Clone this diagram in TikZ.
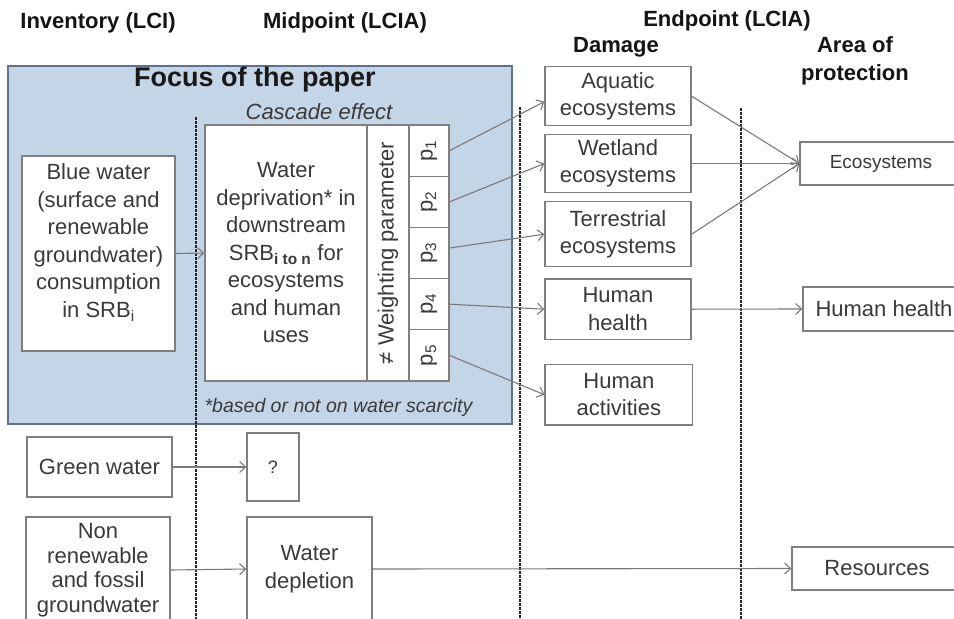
\documentclass[tikz,border=0pt]{standalone}
\usepackage{fontspec}
\setmainfont{Liberation Sans}
\usetikzlibrary{arrows.meta,calc}
\definecolor{bluefill}{HTML}{C5D5E8}
\definecolor{blueedge}{HTML}{5C7290}
\definecolor{boxedge}{HTML}{7F7F7F}
\definecolor{txt}{HTML}{3A3A3A}
\definecolor{arr}{HTML}{7A7A7A}
\begin{document}
\begin{tikzpicture}[x=1pt,y=-1pt,
  box/.style={draw=boxedge, line width=1.3pt, fill=white, text=txt, align=center, inner sep=0pt,
    font=\fontsize{22}{27.5}\selectfont},
  plaintext/.style={text=txt, align=center, inner sep=0pt, font=\fontsize{22}{27.5}\selectfont},
  ttl/.style={font=\bfseries\fontsize{22}{28}\selectfont, text=black!92, align=center, inner sep=0pt},
  conn/.style={draw=arr, line width=1.1pt, -{Straight Barb[length=6pt,width=11pt]}},
  sepline/.style={draw=black!85, line width=1.2pt, dash pattern=on 2.5pt off 1.5pt}
]
\clip (0,0) rectangle (954,619);
\fill[white] (0,0) rectangle (954,619);

% column titles
\node[ttl] (tinv) at (98,23) {Inventory (LCI)};
\node[ttl] (tmid) at (345,23) {Midpoint (LCIA)};
\node[ttl] (tend) at (727,21) {Endpoint (LCIA)};
\node[ttl] (tdam) at (616,47) {Damage};
\node[ttl] (taop) at (855,61) {Area of\\protection};

% focus region
\node[draw=blueedge, fill=bluefill, line width=2pt, minimum width=504, minimum height=358, inner sep=0pt] (focus) at (260,245) {};
\node[font=\bfseries\fontsize{27}{30}\selectfont, text=black!90, inner sep=0pt] (focustitle) at (255,80) {Focus of the paper};
\node[font=\itshape\fontsize{22}{27}\selectfont, text=txt, inner sep=0pt] (cascade) at (319,112) {Cascade effect};
\node[font=\itshape\fontsize{19.5}{24}\selectfont, text=txt, inner sep=0pt] (note) at (338.5,407) {*based or not on water scarcity};

% dashed separators
\coordinate (s1t) at (196,117); \coordinate (s1b) at (196,619);
\coordinate (s2t) at (520,107); \coordinate (s2b) at (520,619);
\coordinate (s3t) at (741,108); \coordinate (s3b) at (741,619);
\draw[sepline] (s1t) -- (s1b);
\draw[sepline] (s2t) -- (s2b);
\draw[sepline] (s3t) -- (s3b);

% inventory
\node[box, minimum width=153, minimum height=195] (blue) at (98.5,253.5) {};
\node[plaintext] (bluetext) at (98.5,242.5) {Blue water\\(surface and\\renewable\\groundwater)\\consumption\\in SRB\textsubscript{i}};
\node[box, minimum width=145, minimum height=60] (green) at (99.5,467) {Green water};
\node[box, minimum width=144, minimum height=106, font=\fontsize{22}{24.5}\selectfont] (nonren) at (98,570) {Non\\renewable\\and fossil\\groundwater};

% midpoint
\node[box, minimum width=162, minimum height=256] (dep) at (286,253) {Water\\deprivation* in\\downstream\\SRB\textsubscript{\textbf{i to n}} for\\ecosystems\\and human\\uses};
\node[box, minimum width=42, minimum height=256] (wcol) at (388,253) {};
\node[plaintext, rotate=90] (wtext) at (wcol.center) {≠ Weighting parameter};
\foreach \i/\y in {1/150.6,2/201.8,3/253,4/304.2,5/355.4}{
  \node[box, minimum width=40, minimum height=51.2] (p\i) at (429,\y) {};
  \node[plaintext, rotate=90] (pt\i) at (p\i.center) {p\textsubscript{\i}};
}
\node[box, minimum width=52, minimum height=68, font=\fontsize{18}{22}\selectfont] (q) at (273,467) {?};
\node[box, minimum width=125, minimum height=104, font=\fontsize{22}{28}\selectfont] (wd) at (309.5,569) {Water\\depletion};

% damage
\node[box, minimum width=146, minimum height=59] (aq) at (618,96.2) {Aquatic\\ecosystems};
\node[box, minimum width=146, minimum height=58.4] (wet) at (618,163.5) {Wetland\\ecosystems};
\node[box, minimum width=146, minimum height=65] (ter) at (618,234.2) {Terrestrial\\ecosystems};
\node[box, minimum width=146, minimum height=60.3] (hhd) at (618,309.2) {Human\\health};
\node[box, minimum width=147.7, minimum height=60.7] (ha) at (618.9,394.7) {Human\\activities};

% areas of protection
\node[box, minimum width=162, minimum height=43, font=\fontsize{19}{23}\selectfont] (eco) at (881,163.5) {Ecosystems};
\node[box, minimum width=162, minimum height=44] (hha) at (884,309) {Human health};
\node[box, minimum width=170, minimum height=43] (res) at (877,568.5) {Resources};

% connectors
\draw[conn] (blue.east) -- (dep.west);
\draw[conn] (p1.east) -- ($(aq.west)+(0,5.5)$);
\draw[conn] (p2.east) -- (wet.west);
\draw[conn] ($(p3.east)+(0,-5)$) -- (ter.west);
\draw[conn] (p4.east) -- (hhd.west);
\draw[conn] (p5.east) -- (ha.west);
\draw[conn] (aq.east) -- (eco.west);
\draw[conn] (wet.east) -- (eco.west);
\draw[conn] (ter.east) -- (eco.west);
\draw[conn] (hhd.east) -- (hha.west);
\draw[conn] (green.east) -- (q.west);
\draw[conn] (nonren.east) -- (wd.west);
\draw[conn] (wd.east) -- (res.west);
\end{tikzpicture}
\end{document}
